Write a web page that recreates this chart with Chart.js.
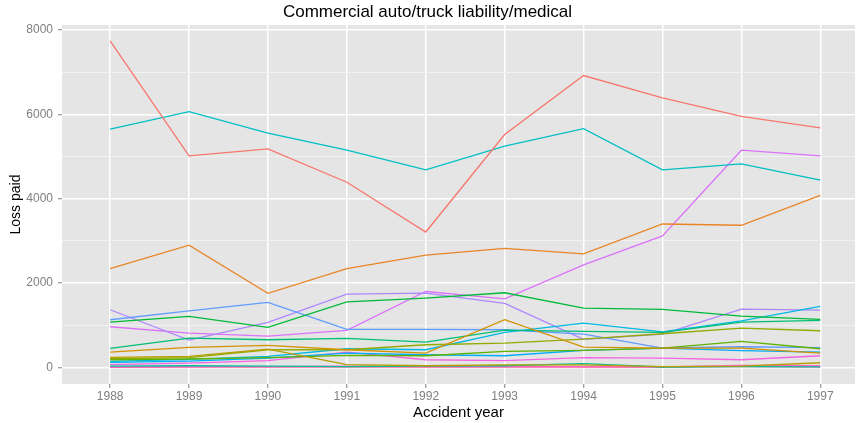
<!DOCTYPE html>
<html>
<head>
<meta charset="utf-8">
<script src="https://cdn.jsdelivr.net/npm/chart.js@4"></script>
<style>
html, body { margin: 0; padding: 0; background: #fff; }
#wrap { width: 856px; height: 423px; }
</style>
</head>
<body>
<div id="wrap"><canvas id="lossChart"></canvas></div>
<script>
// accident years on the x axis
const years = [1988, 1989, 1990, 1991, 1992, 1993, 1994, 1995, 1996, 1997];
const yTicks = [0, 1000, 2000, 3000, 4000, 5000, 6000, 7000, 8000];

// loss paid per company
const comp01 = [7740, 5015, 5180, 4390, 3210, 5520, 6920, 6390, 5950, 5680];
const comp02 = [2340, 2900, 1755, 2340, 2660, 2820, 2690, 3400, 3370, 4080];
const comp03 = [364, 474, 521, 419, 341, 1130, 483, 459, 459, 341];
const comp04 = [237, 261, 436, 64, 40, 60, 60, 20, 30, 111];
const comp05 = [206, 230, 419, 419, 538, 578, 673, 798, 933, 869];
const comp06 = [182, 200, 230, 284, 277, 379, 403, 459, 616, 443];
const comp07 = [1075, 1208, 948, 1556, 1644, 1770, 1407, 1374, 1218, 1140];
const comp08 = [450, 696, 656, 687, 602, 886, 853, 830, 1075, 1114];
const comp09 = [30, 40, 33, 20, 30, 40, 88, 10, 20, 15];
const comp10 = [5648, 6065, 5553, 5150, 4684, 5245, 5662, 4684, 4826, 4439];
const comp11 = [142, 190, 261, 443, 419, 830, 1052, 845, 1106, 1445];
const comp12 = [118, 150, 222, 341, 300, 277, 403, 459, 396, 364];
const comp13 = [1130, 1343, 1540, 900, 900, 893, 791, 460, 490, 467];
const comp14 = [1367, 649, 1066, 1739, 1762, 1516, 663, 791, 1383, 1360];
const comp15 = [964, 815, 743, 877, 1800, 1627, 2432, 3120, 5150, 5015];
const comp16 = [64, 100, 159, 364, 182, 159, 230, 222, 182, 277];
const comp17 = [10, 20, 20, 30, 20, 20, 20, 10, 50, 40];
const comp18 = [0, 10, 5, 10, 10, 10, 10, 5, 20, 10];

const companies = [comp01, comp02, comp03, comp04, comp05, comp06, comp07, comp08, comp09,
  comp10, comp11, comp12, comp13, comp14, comp15, comp16, comp17, comp18];

// ggplot style hue palette (hcl with c=100, l=65)
function hcl(h, c, l) {
  const hr = h * Math.PI / 180;
  const u = c * Math.cos(hr), v = c * Math.sin(hr);
  const Y = Math.pow((l + 16) / 116, 3);
  const Xn = 0.95047, Yn = 1, Zn = 1.08883;
  const un = 4 * Xn / (Xn + 15 * Yn + 3 * Zn);
  const vn = 9 * Yn / (Xn + 15 * Yn + 3 * Zn);
  const up = u / (13 * l) + un, vp = v / (13 * l) + vn;
  const X = Y * 9 * up / (4 * vp);
  const Z = Y * (12 - 3 * up - 20 * vp) / (4 * vp);
  const lin = [
    3.2404542 * X - 1.5371385 * Y - 0.4985314 * Z,
    -0.9692660 * X + 1.8760108 * Y + 0.0415560 * Z,
    0.0556434 * X - 0.2040259 * Y + 1.0572252 * Z
  ];
  const rgb = lin.map(x => {
    const g = x <= 0.0031308 ? 12.92 * x : 1.055 * Math.pow(x, 1 / 2.4) - 0.055;
    return Math.round(Math.min(1, Math.max(0, g)) * 255);
  });
  return "rgb(" + rgb.join(",") + ")";
}

const datasets = companies.map((vals, i) => ({
  label: "Company " + (i + 1),
  data: years.map((y, j) => ({ x: y, y: vals[j] })),
  borderColor: hcl(15 + 360 * i / companies.length, 100, 65),
  borderWidth: 1.3,
  pointRadius: 0,
  fill: false,
  tension: 0
}));

const panelBg = {
  id: "panelBg",
  beforeDraw(chart) {
    const a = chart.chartArea;
    const ctx = chart.ctx;
    ctx.save();
    ctx.fillStyle = "#E5E5E5";
    ctx.fillRect(a.left, a.top, a.right - a.left, a.bottom - a.top);
    ctx.restore();
  }
};

Chart.defaults.font.family = "'Liberation Sans', Arial, sans-serif";

new Chart(document.getElementById("lossChart"), {
  type: "line",
  data: { datasets: datasets },
  plugins: [panelBg],
  options: {
    responsive: true,
    maintainAspectRatio: false,
    animation: false,
    layout: { padding: { left: 0, right: 1, top: 0, bottom: 0 } },
    plugins: {
      legend: { display: false },
      tooltip: { enabled: false },
      title: {
        display: true,
        text: "Commercial auto/truck liability/medical",
        color: "#000",
        font: { size: 17, weight: "normal" },
        padding: { top: 2, bottom: 2.6 }
      }
    },
    scales: {
      x: {
        type: "linear",
        min: 1987.39,
        max: 1997.44,
        afterBuildTicks: s => { s.ticks = years.map(v => ({ value: v })); },
        afterFit: s => { s.height = 39; },
        border: { display: false },
        grid: { color: "#FFFFFF", lineWidth: 1.5, tickLength: 4, tickColor: "#7F7F7F", tickWidth: 1 },
        ticks: { color: "#7F7F7F", font: { size: 12 }, padding: 1, maxRotation: 0, callback: v => String(v) },
        title: { display: true, text: "Accident year", color: "#000", font: { size: 15 }, padding: { top: 0, bottom: 1.3 } }
      },
      y: {
        min: -393,
        max: 8118,
        afterBuildTicks: s => { s.ticks = yTicks.map(v => ({ value: v })); },
        afterFit: s => { s.width = 62; },
        border: { display: false },
        grid: {
          color: c => (c.tick && c.tick.value % 2000 === 0) ? "#FFFFFF" : "#F2F2F2",
          lineWidth: c => (c.tick && c.tick.value % 2000 === 0) ? 1.5 : 1,
          tickLength: 4,
          tickColor: c => (c.tick && c.tick.value % 2000 === 0) ? "#7F7F7F" : "rgba(0,0,0,0)",
          tickWidth: 1
        },
        ticks: { color: "#7F7F7F", font: { size: 12 }, padding: 5, callback: v => (v % 2000 === 0 ? String(v) : "") },
        title: { display: true, text: "Loss paid", color: "#000", font: { size: 14 }, padding: { top: 8, bottom: 0 } }
      }
    }
  }
});
</script>
</body>
</html>
